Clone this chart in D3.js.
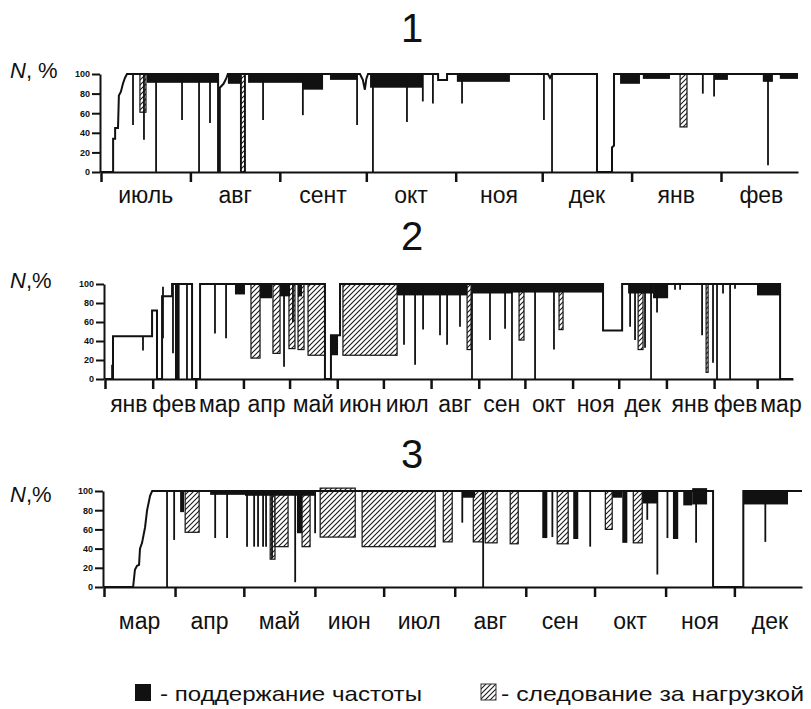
<!DOCTYPE html>
<html>
<head>
<meta charset="utf-8">
<script src="https://cdn.jsdelivr.net/npm/d3@7"></script>
<style>
  html, body { margin: 0; padding: 0; background: #fff; }
  svg { display: block; }
  text { font-family: "Liberation Sans", Arial, sans-serif; fill: #111; }
</style>
</head>
<body>
<svg id="chart" width="811" height="709"></svg>
<script>
// ---- data: power level N (%) by day from the start of each period ----
const yTicks = [0, 20, 40, 60, 80, 100];

// Period 1 (from 1 July)
const months1 = ["июль", "авг", "сент", "окт", "ноя", "дек", "янв", "фев"];
const start1 = "2001-07-01", endDay1 = 241.7;
const line1 = [[0,0],[4.2,0],[4.2,34],[4.9,34],[4.9,45],[5.9,45],[6.2,78],[6.9,82],[7.6,90],[8.3,96],[9.0,100],
  [40.6,100],[40.6,0],[41.2,0],[41.2,86],[42.5,90],[43.5,96],[44.0,100],[89.8,100],[90.8,94],[91.5,84],[92.0,95],[92.6,100],
  [116.9,100],[116.9,94],[120.0,94],[120.0,100],[155.0,100],[155.7,96],[156.4,100],[172.0,100],[172.0,0],[177.2,0],
  [177.2,25],[177.9,27],[177.9,100],[241.7,100]];
const spikes1 = [[11.1,48],[14.9,33],[19.1,0],[28.1,53],[34.0,0],[37.8,50],[48.5,0],[49.9,0],[56.2,53],[70.0,58],
  [88.8,48],[94.3,0],[106.1,51],[111.6,72],[115.1,70],[125.2,70],[153.6,53],[156.4,0],[208.7,80],[212.6,77],[231.3,7]];
const freq1 = [[15.9,40.6,91],[44.0,48.5,90],[51.0,69.7,91],[69.7,77.0,84],[79.4,88.8,94],[93.3,111.6,86],
  [123.4,141.8,92],[180.0,186.9,90],[187.9,197.3,95],[212.9,217.4,94],[229.5,233.0,92],[235.4,241.7,95]];
const load1 = [[13.5,15.6,61],[48.5,49.9,0],[200.8,203.2,46]];

// Period 2 (from 1 January, fifteen months)
const months2 = ["янв", "фев", "мар", "апр", "май", "июн", "июл", "авг", "сен", "окт", "ноя", "дек", "янв", "фев", "мар"];
const start2 = "2001-01-01", endDay2 = 447.3;
const line2 = [[0,0],[5.2,0],[5.2,45],[30.6,45],[30.6,72],[33.8,72],[33.8,0],[37.1,0],[37.1,87],[43.6,87],[43.6,100],
  [56.6,100],[56.6,0],[61.8,0],[61.8,100],[143.0,100],[143.0,0],[146.9,0],[146.9,46],[152.8,46],[152.8,100],
  [323.8,100],[323.8,51],[336.2,51],[336.2,100],[438.9,100],[438.9,0],[447.3,0]];
const spikes2 = [[4.6,0,15],[24.7,30,45],[37.7,43,97],[44.2,27],[53.3,0],[71.5,48],[78.7,43],[116.4,13],[122.2,60],
  [194.4,36],[201.6,15],[206.8,52],[217.8,46],[222.4,36],[230.8,55],[238.6,0],[250.3,41],[260.1,53],[264.6,0],
  [279.6,0],[291.9,31],[341.4,55],[344.6,41],[351.1,33],[355.0,0],[358.9,70],[370.6,94],[373.9,94],[388.2,46],
  [395.3,17],[397.9,0],[401.8,90],[406.4,0],[409.6,95]];
const freq2 = [[45.5,48.5,0],[84.5,91.0,89],[100.8,108.6,85],[113.8,120.3,87],[125.5,128.1,87],[146.9,151.5,25,46],
  [189.9,235.4,88],[238.6,264.6,90],[264.6,323.8,91],[340.1,356.3,90],[356.3,366.1,85],[423.9,438.9,88]];
const load2 = [[94.9,100.8,22],[109.2,113.8,27],[119.6,123.5,32],[125.5,129.4,31],[132.0,143.0,25],[154.7,189.9,25],
  [235.4,238.0,31],[269.2,272.4,41],[295.2,297.8,52],[346.6,349.8,31],[390.8,392.1,7]];

// Period 3 (from 1 March)
const months3 = ["мар", "апр", "май", "июн", "июл", "авг", "сен", "окт", "ноя", "дек"];
const start3 = "2001-03-01", endDay3 = 304.5;
const line3 = [[0,0],[12.7,0],[13.5,18],[14.4,22],[15.3,23],[15.7,40],[16.6,46],[17.9,62],[18.8,80],[20.1,95],[21.0,100],
  [265.7,100],[265.7,0],[278.9,0],[278.9,100],[304.5,100]];
const spikes3 = [[27.5,0],[30.6,49],[48.5,51],[53.7,51],[62.4,42],[65.5,42],[67.2,42],[69.4,42],[70.7,42],[73.3,30],
  [83.4,5],[92.1,56],[156.3,67],[165.4,0],[195.6,52],[212.1,42],[237.0,70],[241.4,13],[245.8,51],[258.3,46],[288.5,47]];
const freq3 = [[33.2,34.9,78],[46.3,61.5,96],[61.5,92.0,95],[84.2,86.4,56],[156.3,161.9,93],[191.2,193.4,51],
  [204.7,206.9,50],[221.7,226.1,93],[226.1,228.3,46],[234.8,241.4,87],[248.2,250.5,50],[252.7,256.6,85],
  [256.6,263.1,86,103],[278.9,298.4,86]];
const load3 = [[35.4,41.5,57],[72.5,74.6,29],[74.6,80.3,42],[86.4,89.9,42],[94.3,109.6,52,103],[112.6,144.5,42],
  [148.0,151.9,47],[161.1,165.4,47],[166.3,171.5,46],[177.2,180.7,45],[197.7,202.5,45],[218.7,221.7,60],[230.9,234.8,46]];

const legendItems = ["- поддержание частоты", "- следование за нагрузкой"];

// ---- layout ----
const panels = [
  { title: "1", nLabel: "N, %", start: start1, endDay: endDay1, months: months1, line: line1, spikes: spikes1, freq: freq1, load: load1,
    x0: 101, x1: 798, yTop: 74, yBase: 172, titleY: 42, nY: 78, monthY: 203, monthSize: 23 },
  { title: "2", nLabel: "N,%", start: start2, endDay: endDay2, months: months2, line: line2, spikes: spikes2, freq: freq2, load: load2,
    x0: 105, x1: 793, yTop: 284, yBase: 379, titleY: 250, nY: 288, monthY: 412, monthSize: 23 },
  { title: "3", nLabel: "N,%", start: start3, endDay: endDay3, months: months3, line: line3, spikes: spikes3, freq: freq3, load: load3,
    x0: 104, x1: 802, yTop: 491, yBase: 587, titleY: 468, nY: 502, monthY: 629, monthSize: 23 }
];

const svg = d3.select("#chart");
const defs = svg.append("defs");
const pat = defs.append("pattern").attr("id", "hatch").attr("patternUnits", "userSpaceOnUse")
  .attr("width", 5).attr("height", 5);
pat.append("rect").attr("width", 5).attr("height", 5).attr("fill", "#fff");
pat.append("path").attr("d", "M-1,1 l2,-2 M0,5 l5,-5 M4,6 l2,-2")
  .attr("stroke", "#1a1a1a").attr("stroke-width", 1.1);

const DAY = 864e5;

panels.forEach(p => {
  const t0 = new Date(p.start + "T00:00:00Z");
  const toDate = d => new Date(+t0 + d * DAY);
  const tEnd = toDate(p.endDay);
  const xs = d3.scaleUtc().domain([t0, tEnd]).range([p.x0, p.x1]);
  const x = d => xs(toDate(d));
  const y = d3.scaleLinear().domain([0, 100]).range([p.yBase, p.yTop]);

  const g = svg.append("g");

  // title
  svg.append("text").attr("x", 412).attr("y", p.titleY).attr("text-anchor", "middle")
    .style("font-size", "40px").text(p.title);

  // axis label N, %
  const nl = svg.append("text").attr("x", 10).attr("y", p.nY).style("font-size", "22px");
  nl.append("tspan").style("font-style", "italic").text("N");
  nl.append("tspan").text(p.nLabel.slice(1));

  // load-following blocks (hatched)
  g.selectAll("rect.load").data(p.load).join("rect").attr("class", "load")
    .attr("x", d => x(d[0])).attr("width", d => Math.max(1, x(d[1]) - x(d[0])))
    .attr("y", d => y(d[3] ?? 100)).attr("height", d => y(d[2]) - y(d[3] ?? 100))
    .attr("fill", "url(#hatch)").attr("stroke", "#111").attr("stroke-width", 1.2);

  // frequency-support blocks (black)
  g.selectAll("rect.freq").data(p.freq).join("rect").attr("class", "freq")
    .attr("x", d => x(d[0])).attr("width", d => Math.max(1, x(d[1]) - x(d[0])))
    .attr("y", d => y(d[3] ?? 100)).attr("height", d => y(d[2]) - y(d[3] ?? 100))
    .attr("fill", "#111");

  // short dips of the power level
  g.selectAll("line.spike").data(p.spikes).join("line").attr("class", "spike")
    .attr("x1", d => x(d[0])).attr("x2", d => x(d[0]))
    .attr("y1", d => y(d[2] ?? 100)).attr("y2", d => y(d[1]))
    .attr("stroke", "#111").attr("stroke-width", 1.8);

  // main power level curve
  g.append("path").datum(p.line)
    .attr("d", d3.line().x(d => x(d[0])).y(d => y(d[1])))
    .attr("fill", "none").attr("stroke", "#111").attr("stroke-width", 2).attr("stroke-linejoin", "miter");

  // y axis
  const ya = svg.append("g").attr("transform", `translate(${p.x0 - 1},0)`)
    .call(d3.axisLeft(y).tickValues(yTicks).tickSize(8).tickSizeOuter(0).tickPadding(2));
  ya.select(".domain").attr("stroke-width", 2).attr("stroke", "#111");
  ya.selectAll(".tick line").attr("stroke-width", 2).attr("stroke", "#111");
  ya.selectAll(".tick text").style("font-size", "9px").style("font-weight", "bold")
    .style("font-family", "'Liberation Sans', Arial, sans-serif").attr("fill", "#222");

  // x axis with month ticks
  const monthStarts = d3.utcMonth.range(t0, tEnd);
  const xa = svg.append("g").attr("transform", `translate(0,${p.yBase})`)
    .call(d3.axisBottom(xs).tickValues(monthStarts).tickSize(10).tickSizeOuter(0).tickFormat(""));
  xa.select(".domain").attr("stroke-width", 2).attr("stroke", "#111");
  xa.selectAll(".tick line").attr("stroke-width", 2.5).attr("stroke", "#111");

  // month labels, centred on the middle of each calendar month
  const spans = monthStarts.map((m, i) => {
    const next = d3.utcMonth.offset(m, 1);
    return { label: p.months[i], mid: new Date((+m + +next) / 2) };
  });
  svg.append("g").selectAll("text").data(spans).join("text")
    .attr("x", d => xs(d.mid)).attr("y", p.monthY).attr("text-anchor", "middle")
    .style("font-size", p.monthSize + "px").text(d => d.label);
});

// legend
const lg = svg.append("g");
lg.append("rect").attr("x", 135).attr("y", 684).attr("width", 16).attr("height", 17).attr("fill", "#111");
lg.append("text").attr("x", 160).attr("y", 701).style("font-size", "21px")
  .attr("textLength", 262).attr("lengthAdjust", "spacingAndGlyphs").text(legendItems[0]);
lg.append("rect").attr("x", 481).attr("y", 684).attr("width", 15).attr("height", 16)
  .attr("fill", "url(#hatch)").attr("stroke", "#333").attr("stroke-width", 1);
lg.append("text").attr("x", 501).attr("y", 701).style("font-size", "21px")
  .attr("textLength", 303).attr("lengthAdjust", "spacingAndGlyphs").text(legendItems[1]);
</script>
</body>
</html>
